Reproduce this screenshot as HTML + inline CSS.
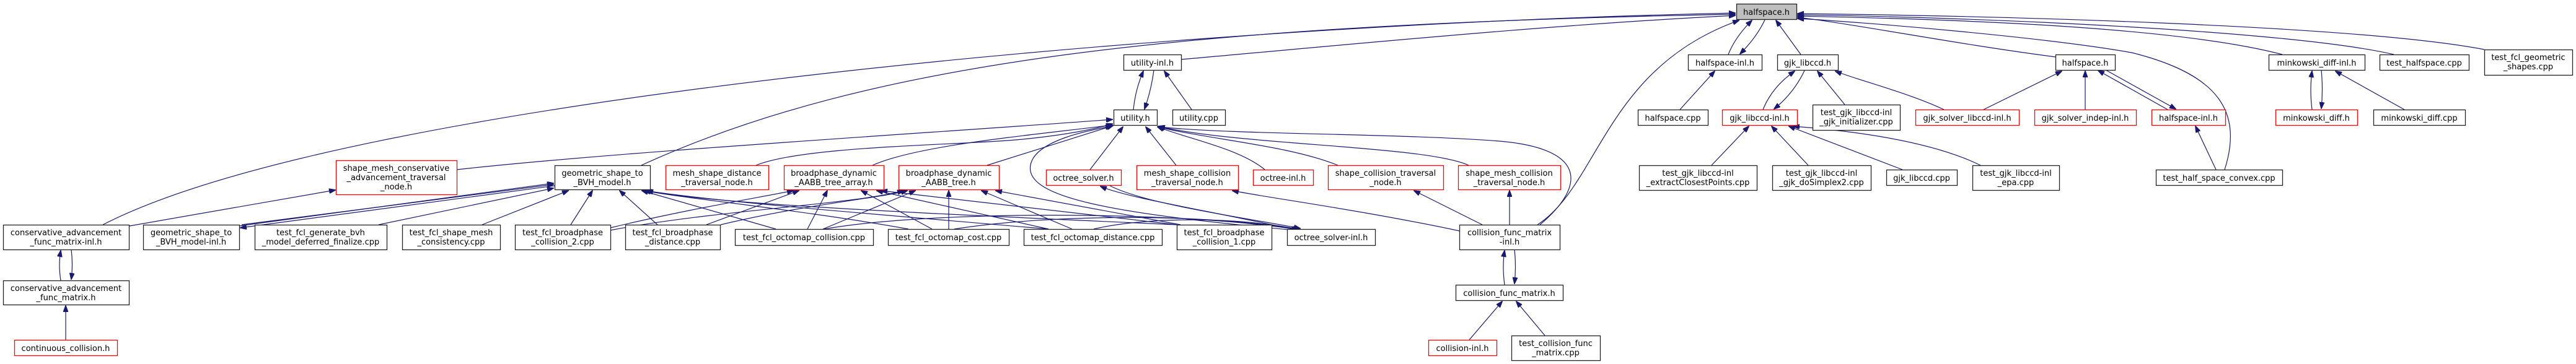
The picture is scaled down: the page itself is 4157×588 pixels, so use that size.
<!DOCTYPE html>
<html><head><meta charset="utf-8"><style>
html,body{margin:0;padding:0;background:#fff;}
svg{display:block;}
text{font-family:"DejaVu Sans","Liberation Sans",sans-serif;font-size:13px;fill:#000;text-anchor:middle;}
.n{fill:#fff;stroke:#222;stroke-width:1.3;}
.r{fill:#fff;stroke:#f00;stroke-width:1.3;}
.g{fill:#bfbfbf;stroke:#222;stroke-width:1.3;}
path{fill:none;stroke:#191970;stroke-width:1.2;marker-end:url(#a);}
</style></head><body>
<svg width="4157" height="588" viewBox="0 0 4157 588" xmlns="http://www.w3.org/2000/svg">
<defs><marker id="a" markerWidth="11" markerHeight="8" refX="10" refY="4" orient="auto" markerUnits="userSpaceOnUse"><polygon points="0,0 11,4 0,8" fill="#191970" stroke="#191970"/></marker></defs>

<!-- edges -->
<path d="M166,363 C560,160 1900,40 2800,21"/>
<path d="M1035,267 C1400,100 1900,40 2800,23"/>
<path d="M1906,96 C2200,70 2500,40 2800,25"/>
<path d="M737,274 C1000,245 1500,215 1795,193"/>
<path d="M2481,363 C2580,300 2590,110 2806,33"/>
<path d="M2789,88 Q2800,60 2827,33"/>
<path d="M2848,32 Q2835,60 2808,87"/>
<path d="M2906,88 L2866,33"/>
<path d="M3317,92 C3150,70 3000,40 2901,28"/>
<path d="M3590,274 C3620,180 3580,120 3440,85 C3300,60 3000,35 2901,30"/>
<path d="M3683,88 C3500,40 3100,30 2901,26"/>
<path d="M3863,88 C3700,50 3200,28 2901,24"/>
<path d="M4009,80 C3800,40 3200,25 2901,22"/>
<path d="M3137,177 C3080,150 3000,130 2962,115"/>
<path d="M3201,177 L3327,115"/>
<path d="M3365,177 L3365,115"/>
<path d="M3498,177 L3386,114"/>
<path d="M3398,113 L3511,176"/>
<path d="M3576,274 L3543,204"/>
<path d="M3731,177 Q3727,145 3731,115"/>
<path d="M3746,113 Q3749,145 3746,175"/>
<path d="M3880,177 L3769,115"/>
<path d="M2711,177 L2767,115"/>
<path d="M2845,177 Q2860,140 2896,115"/>
<path d="M2912,114 Q2895,150 2863,176"/>
<path d="M2977,169 L2933,115"/>
<path d="M2762,267 L2822,204"/>
<path d="M2918,267 L2859,204"/>
<path d="M3070,274 L2887,204"/>
<path d="M3196,267 Q3100,220 2894,204"/>
<path d="M2428,460 Q2424,430 2428,405"/>
<path d="M2444,403 Q2447,430 2444,458"/>
<path d="M2371,549 L2424,487"/>
<path d="M2493,542 L2447,487"/>
<path d="M2392,363 L2282,308"/>
<path d="M2436,363 L2436,308"/>
<path d="M2485,363 C2560,300 2560,240 2420,228 C2250,215 2000,218 1870,205"/>
<path d="M2355,373 C2200,340 2050,320 1989,308"/>
<path d="M2159,267 C2080,235 1950,225 1869,205"/>
<path d="M2370,267 C2300,235 2000,235 1869,204"/>
<path d="M2041,274 C2000,240 1920,225 1868,205"/>
<path d="M1898,267 L1849,205"/>
<path d="M1759,274 L1812,205"/>
<path d="M2090,372 C1800,345 1640,320 1665,260 C1680,225 1760,210 1794,204"/>
<path d="M2085,370 C1950,340 1820,320 1776,301"/>
<path d="M1791,300 C1850,330 2000,350 2098,369"/>
<path d="M1829,177 Q1832,145 1845,115"/>
<path d="M1862,113 Q1858,145 1847,176"/>
<path d="M1923,177 L1879,115"/>
<path d="M1220,267 C1300,235 1550,235 1650,225 C1720,218 1770,208 1795,200"/>
<path d="M1408,267 C1480,235 1650,220 1795,202"/>
<path d="M1593,267 L1796,203"/>
<path d="M386,365 L893,296"/>
<path d="M895,300 L388,368"/>
<path d="M390,363 L893,298"/>
<path d="M209,365 L541,307"/>
<path d="M611,363 L893,304"/>
<path d="M778,363 L917,308"/>
<path d="M921,363 L956,308"/>
<path d="M1061,363 L1000,308"/>
<path d="M1252,370 L1036,308"/>
<path d="M1466,370 C1300,340 1100,320 1040,308"/>
<path d="M1692,370 C1400,345 1150,325 1042,308"/>
<path d="M1899,363 C1500,345 1150,330 1044,308"/>
<path d="M98,453 Q94,428 98,405"/>
<path d="M115,403 Q118,428 115,451"/>
<path d="M106,549 L106,494"/>
<path d="M985,368 C1100,340 1220,320 1280,308"/>
<path d="M985,372 C1150,340 1380,330 1458,308"/>
<path d="M1140,363 L1289,308"/>
<path d="M1163,363 C1300,330 1420,320 1464,308"/>
<path d="M1303,370 L1335,308"/>
<path d="M1328,370 L1477,308"/>
<path d="M1504,370 L1390,308"/>
<path d="M1531,370 L1531,308"/>
<path d="M1692,370 L1415,308"/>
<path d="M1730,370 L1584,308"/>
<path d="M1899,363 L1422,308"/>
<path d="M1905,363 L1607,308"/>
<path d="M1330,370 C1500,340 1900,340 2094,371"/>
<path d="M1540,370 C1700,345 1950,345 2096,371"/>
<path d="M1765,370 C1850,350 2000,350 2098,371"/>

<!-- nodes -->
<rect class="g" x="2802.5" y="6.5" width="97" height="25"/><text x="2850.5" y="24">halfspace.h</text>
<rect class="n" x="1813.5" y="88.5" width="93" height="25"/><text x="1859.5" y="106">utility-inl.h</text>
<rect class="n" x="1797.5" y="177.5" width="70" height="25"/><text x="1832" y="195">utility.h</text>
<rect class="n" x="1892.5" y="177.5" width="85" height="25"/><text x="1934.5" y="195">utility.cpp</text>
<rect class="n" x="2724.5" y="88.5" width="119" height="25"/><text x="2783.5" y="106">halfspace-inl.h</text>
<rect class="n" x="2868.5" y="88.5" width="98" height="25"/><text x="2917" y="106">gjk_libccd.h</text>
<rect class="n" x="2643.5" y="177.5" width="113" height="25"/><text x="2699.5" y="195">halfspace.cpp</text>
<rect class="r" x="2779.5" y="177.5" width="121" height="25"/><text x="2839.5" y="195">gjk_libccd-inl.h</text>
<rect class="n" x="2925.5" y="169.5" width="141" height="41"/><text x="2995.5" y="186">test_gjk_libccd-inl</text><text x="2995.5" y="201">_gjk_initializer.cpp</text>
<rect class="n" x="2645.5" y="267.5" width="190" height="40"/><text x="2740" y="284">test_gjk_libccd-inl</text><text x="2740" y="299">_extractClosestPoints.cpp</text>
<rect class="n" x="2860.5" y="267.5" width="159" height="40"/><text x="2939.5" y="284">test_gjk_libccd-inl</text><text x="2939.5" y="299">_gjk_doSimplex2.cpp</text>
<rect class="n" x="3044.5" y="274.5" width="114" height="25"/><text x="3101" y="292">gjk_libccd.cpp</text>
<rect class="n" x="3183.5" y="267.5" width="140" height="40"/><text x="3253" y="284">test_gjk_libccd-inl</text><text x="3253" y="299">_epa.cpp</text>
<rect class="n" x="3317.5" y="88.5" width="96" height="25"/><text x="3365" y="106">halfspace.h</text>
<rect class="n" x="3661.5" y="88.5" width="155" height="25"/><text x="3738.5" y="106">minkowski_diff-inl.h</text>
<rect class="n" x="3840.5" y="88.5" width="144" height="25"/><text x="3912" y="106">test_halfspace.cpp</text>
<rect class="n" x="4009.5" y="80.5" width="142" height="41"/><text x="4080" y="97">test_fcl_geometric</text><text x="4080" y="112">_shapes.cpp</text>
<rect class="r" x="3091.5" y="177.5" width="167" height="25"/><text x="3174.5" y="195">gjk_solver_libccd-inl.h</text>
<rect class="r" x="3283.5" y="177.5" width="164" height="25"/><text x="3365" y="195">gjk_solver_indep-inl.h</text>
<rect class="r" x="3472.5" y="177.5" width="119" height="25"/><text x="3531.5" y="195">halfspace-inl.h</text>
<rect class="r" x="3672.5" y="177.5" width="132" height="25"/><text x="3738" y="195">minkowski_diff.h</text>
<rect class="n" x="3830.5" y="177.5" width="148" height="25"/><text x="3904" y="195">minkowski_diff.cpp</text>
<rect class="n" x="3479.5" y="274.5" width="204" height="25"/><text x="3581" y="292">test_half_space_convex.cpp</text>
<rect class="r" x="2022.5" y="274.5" width="97" height="25"/><text x="2070.5" y="292">octree-inl.h</text>
<rect class="r" x="2143.5" y="267.5" width="186" height="39"/><text x="2236" y="284">shape_collision_traversal</text><text x="2236" y="299">_node.h</text>
<rect class="r" x="2353.5" y="267.5" width="165" height="39"/><text x="2435.5" y="284">shape_mesh_collision</text><text x="2435.5" y="299">_traversal_node.h</text>
<rect class="n" x="2077.5" y="370.5" width="142" height="26"/><text x="2148" y="388">octree_solver-inl.h</text>
<rect class="n" x="2355.5" y="363.5" width="162" height="40"/><text x="2436" y="380">collision_func_matrix</text><text x="2436" y="395">-inl.h</text>
<rect class="n" x="2349.5" y="460.5" width="173" height="25"/><text x="2435.5" y="478">collision_func_matrix.h</text>
<rect class="r" x="2305.5" y="549.5" width="110" height="25"/><text x="2360" y="567">collision-inl.h</text>
<rect class="n" x="2439.5" y="542.5" width="143" height="40"/><text x="2510.5" y="559">test_collision_func</text><text x="2510.5" y="574">_matrix.cpp</text>
<rect class="r" x="1074.5" y="267.5" width="166" height="39"/><text x="1157" y="284">mesh_shape_distance</text><text x="1157" y="299">_traversal_node.h</text>
<rect class="r" x="1265.5" y="267.5" width="161" height="39"/><text x="1345.5" y="284">broadphase_dynamic</text><text x="1345.5" y="299">_AABB_tree_array.h</text>
<rect class="r" x="1450.5" y="267.5" width="162" height="39"/><text x="1531" y="284">broadphase_dynamic</text><text x="1531" y="299">_AABB_tree.h</text>
<rect class="r" x="1688.5" y="274.5" width="121" height="25"/><text x="1748.5" y="292">octree_solver.h</text>
<rect class="r" x="1834.5" y="267.5" width="164" height="39"/><text x="1916" y="284">mesh_shape_collision</text><text x="1916" y="299">_traversal_node.h</text>
<rect class="n" x="1009.5" y="363.5" width="153" height="40"/><text x="1085.5" y="380">test_fcl_broadphase</text><text x="1085.5" y="395">_distance.cpp</text>
<rect class="n" x="1186.5" y="370.5" width="223" height="26"/><text x="1297.5" y="388">test_fcl_octomap_collision.cpp</text>
<rect class="n" x="1433.5" y="370.5" width="195" height="26"/><text x="1530.5" y="388">test_fcl_octomap_cost.cpp</text>
<rect class="n" x="1652.5" y="370.5" width="223" height="26"/><text x="1763.5" y="388">test_fcl_octomap_distance.cpp</text>
<rect class="n" x="1899.5" y="363.5" width="153" height="40"/><text x="1975.5" y="380">test_fcl_broadphase</text><text x="1975.5" y="395">_collision_1.cpp</text>
<rect class="n" x="5.5" y="363.5" width="203" height="40"/><text x="106.5" y="380">conservative_advancement</text><text x="106.5" y="395">_func_matrix-inl.h</text>
<rect class="n" x="231.5" y="363.5" width="155" height="40"/><text x="308.5" y="380">geometric_shape_to</text><text x="308.5" y="395">_BVH_model-inl.h</text>
<rect class="n" x="411.5" y="363.5" width="213" height="40"/><text x="517.5" y="380">test_fcl_generate_bvh</text><text x="517.5" y="395">_model_deferred_finalize.cpp</text>
<rect class="n" x="649.5" y="363.5" width="158" height="40"/><text x="728" y="380">test_fcl_shape_mesh</text><text x="728" y="395">_consistency.cpp</text>
<rect class="n" x="831.5" y="363.5" width="154" height="40"/><text x="908" y="380">test_fcl_broadphase</text><text x="908" y="395">_collision_2.cpp</text>
<rect class="r" x="542.5" y="259.5" width="195" height="55"/><text x="639.5" y="276">shape_mesh_conservative</text><text x="639.5" y="291">_advancement_traversal</text><text x="639.5" y="306">_node.h</text>
<rect class="n" x="895.5" y="267.5" width="154" height="39"/><text x="972" y="284">geometric_shape_to</text><text x="972" y="299">_BVH_model.h</text>
<rect class="n" x="5.5" y="453.5" width="203" height="39"/><text x="106.5" y="470">conservative_advancement</text><text x="106.5" y="485">_func_matrix.h</text>
<rect class="r" x="23.5" y="549.5" width="166" height="25"/><text x="106" y="567">continuous_collision.h</text>
</svg>
</body></html>
